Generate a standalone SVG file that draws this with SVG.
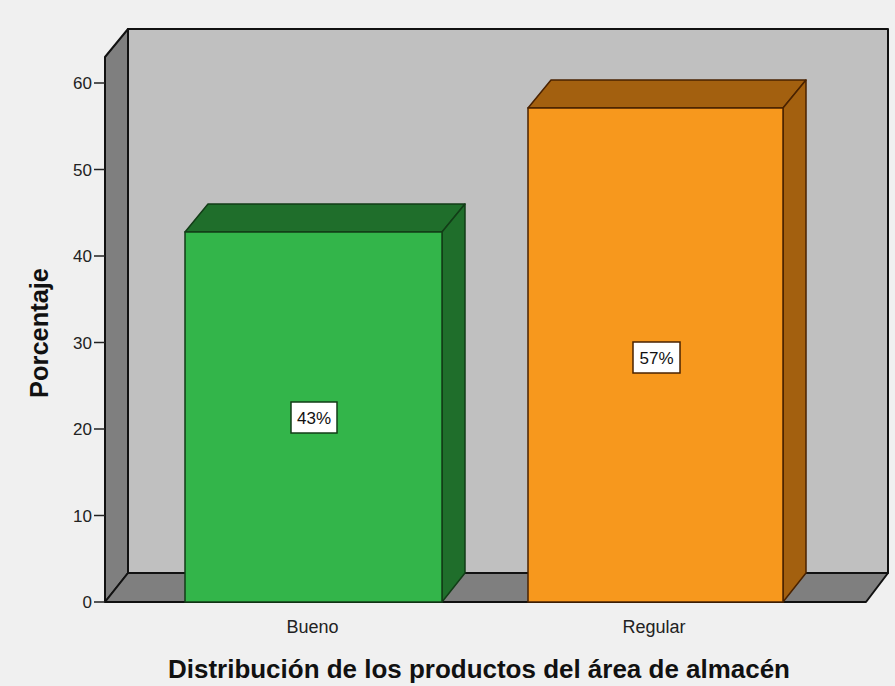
<svg xmlns="http://www.w3.org/2000/svg" width="895" height="686" viewBox="0 0 895 686">
<style>
.edge{stroke:#111;stroke-width:2;stroke-linejoin:round}
.tick{font-family:"Liberation Sans",Arial,sans-serif;font-size:17px;fill:#222;text-anchor:end}
.cat{font-family:"Liberation Sans",Arial,sans-serif;font-size:18px;fill:#222;text-anchor:middle}
.title{font-family:"Liberation Sans",Arial,sans-serif;font-size:25px;font-weight:bold;fill:#111;text-anchor:middle}
.lbl{font-family:"Liberation Sans",Arial,sans-serif;font-size:17px;fill:#111;text-anchor:middle}
</style>
<rect width="895" height="686" fill="#f0f0f0"/>
<g id="frame">
<polygon points="128,29 888,29 888,573 128,573" fill="#c0c0c0" class="edge"/>
<polygon points="105,57 128,29 128,573 105,602" fill="#7f7f7f" class="edge"/>
<polygon points="105,602 866,602 888,573 128,573" fill="#7f7f7f" class="edge"/>
</g>
<g id="axis">
<g stroke="#222" stroke-width="1.5">
<line x1="94" y1="602" x2="105" y2="602"/>
<line x1="94" y1="515.5" x2="105" y2="515.5"/>
<line x1="94" y1="429" x2="105" y2="429"/>
<line x1="94" y1="342.5" x2="105" y2="342.5"/>
<line x1="94" y1="256" x2="105" y2="256"/>
<line x1="94" y1="169.5" x2="105" y2="169.5"/>
<line x1="94" y1="83" x2="105" y2="83"/>
</g>
<text class="tick" x="92" y="608">0</text>
<text class="tick" x="92" y="521.5">10</text>
<text class="tick" x="92" y="435">20</text>
<text class="tick" x="92" y="348.5">30</text>
<text class="tick" x="92" y="262">40</text>
<text class="tick" x="92" y="175.5">50</text>
<text class="tick" x="92" y="89">60</text>
<text class="title" transform="translate(48,333) rotate(-90)" textLength="130" lengthAdjust="spacingAndGlyphs">Porcentaje</text>
<text class="cat" x="312.5" y="633">Bueno</text>
<text class="cat" x="654" y="633">Regular</text>
<text class="title" x="479" y="678" textLength="622" lengthAdjust="spacingAndGlyphs">Distribución de los productos del área de almacén</text>
</g>
<g id="bar-bueno">
<polygon points="185,232 208,204 465,204 442,232" fill="#1f6e2b" stroke="#123d17" stroke-width="1.5" stroke-linejoin="round"/>
<polygon points="442,232 465,204 465,573 442,602" fill="#1f6e2b" stroke="#123d17" stroke-width="1.5" stroke-linejoin="round"/>
<rect x="185" y="232" width="257" height="370" fill="#33b54a" stroke="#123d17" stroke-width="1.5"/>
<rect x="291" y="402" width="46" height="31" fill="#fff" stroke="#123d17" stroke-width="1.5"/>
<text class="lbl" x="314" y="424">43%</text>
</g>
<g id="bar-regular">
<polygon points="528,108 551,80 806,80 783,108" fill="#a3600f" stroke="#4a2200" stroke-width="1.5" stroke-linejoin="round"/>
<polygon points="783,108 806,80 806,573 783,602" fill="#a3600f" stroke="#4a2200" stroke-width="1.5" stroke-linejoin="round"/>
<rect x="528" y="108" width="255" height="494" fill="#f7981d" stroke="#4a2200" stroke-width="1.5"/>
<rect x="633" y="342" width="47" height="31" fill="#fff" stroke="#4a2200" stroke-width="1.5"/>
<text class="lbl" x="656.5" y="364">57%</text>
</g>
<g id="connectors"/>
</svg>
